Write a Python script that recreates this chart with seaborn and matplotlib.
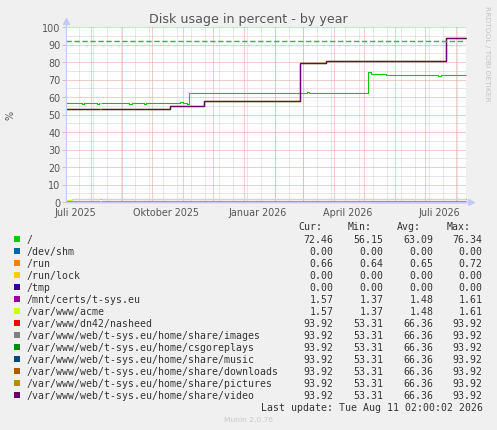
import numpy as np
import pandas as pd
import matplotlib
matplotlib.use('Agg')
import matplotlib.pyplot as plt
from matplotlib.patches import Rectangle
import seaborn as sns

W, H = 497, 431
start = pd.Timestamp('2025-07-07')   # left edge of the 400 day window

# line data, as (day offset from start, percent) breakpoints
root_days = [0, 16, 18, 31, 33, 63, 66, 78, 80, 100, 103, 114, 117, 121, 123,
             173, 175, 186, 188, 241, 243, 296, 302, 305, 308, 320, 345, 372, 375, 400]
root_vals = [56.3, 56.0, 56.3, 56.1, 56.3, 56.0, 56.3, 56.1, 56.3, 56.8, 56.4, 56.9, 56.4, 56.2, 62.1,
             62.5, 62.1, 62.5, 62.1, 62.6, 62.1, 62.4, 74.2, 73.3, 73.0, 72.7, 72.8, 72.2, 72.6, 72.46]
share_days = [0, 104, 138, 234, 260, 380, 400]
share_vals = [53.31, 54.7, 57.5, 79.6, 80.4, 93.92, 93.92]
certs_days = [0, 6, 150, 300, 370, 400]
certs_vals = [1.37, 1.45, 1.48, 1.52, 1.57, 1.57]
run_days = [0, 200, 400]
run_vals = [0.64, 0.65, 0.66]
zero_days = [0, 400]
zero_vals = [0.0, 0.0]
tmp_days = [304, 400]
tmp_vals = [0.0, 0.0]
gap = (34, 35)          # missing data
warn_level = 92

labels = ['/', '/dev/shm', '/run', '/run/lock', '/tmp', '/mnt/certs/t-sys.eu', '/var/www/acme',
          '/var/www/dn42/nasheed', '/var/www/web/t-sys.eu/home/share/images',
          '/var/www/web/t-sys.eu/home/csgoreplays', '/var/www/web/t-sys.eu/home/share/music',
          '/var/www/web/t-sys.eu/home/share/downloads', '/var/www/web/t-sys.eu/home/share/pictures',
          '/var/www/web/t-sys.eu/home/share/video']
colors = ['#00CC00', '#0066B3', '#FF8000', '#FFCC00', '#330099', '#990099', '#CCFF00',
          '#FF0000', '#808080', '#008F00', '#00487D', '#B35A00', '#B38F00', '#6B006B']
cur = [72.46, 0.00, 0.66, 0.00, 0.00, 1.57, 1.57] + [93.92] * 7
mins = [56.15, 0.00, 0.64, 0.00, 0.00, 1.37, 1.37] + [53.31] * 7
avgs = [63.09, 0.00, 0.65, 0.00, 0.00, 1.48, 1.48] + [66.36] * 7
maxs = [76.34, 0.00, 0.72, 0.00, 0.00, 1.61, 1.61] + [93.92] * 7
series = [(root_days, root_vals), (zero_days, zero_vals), (run_days, run_vals),
          (zero_days, zero_vals), (tmp_days, tmp_vals), (certs_days, certs_vals),
          (certs_days, certs_vals)] + [(share_days, share_vals)] * 7

tick_labels = ['Juli 2025', 'Oktober 2025', 'Januar 2026', 'April 2026', 'Juli 2026']
tick_days = [9, 100, 192, 282, 373]


def segments(days, vals):
    # split a series around the data gap
    days = np.asarray(days, float)
    vals = np.asarray(vals, float)
    pre = days < gap[0]
    if not pre.any():
        return [pd.DataFrame({'day': days, 'value': vals})]
    v0 = vals[days <= gap[1]][-1]
    post = days > gap[1]
    return [pd.DataFrame({'day': np.append(days[pre], gap[0]),
                          'value': np.append(vals[pre], vals[pre][-1])}),
            pd.DataFrame({'day': np.append(gap[1], days[post]),
                          'value': np.append(v0, vals[post])})]


def fx(x):
    return x / W


def fy(y):
    return 1 - y / H


plt.rcParams['font.family'] = ['DejaVu Sans']
fig = plt.figure(figsize=(W / 100, H / 100), dpi=100, facecolor='#F0F0F0')
ax = fig.add_axes([fx(66), fy(203), 400 / W, 175 / H])
ax.set_facecolor('white')

# grid
month_days = [(d - start).days for d in pd.date_range('2025-08-01', '2026-08-01', freq='MS')]
minor_days = np.arange(13, 400, 14)
dot = (0, (1, 1))
ax.vlines(minor_days, 0, 100, colors='#D0D0D0', lw=0.72, linestyles=dot, zorder=0.5)
ax.hlines(np.arange(5, 100, 10), 0, 400, colors='#D0D0D0', lw=0.72, linestyles=dot, zorder=0.5)
ax.vlines(month_days, 0, 100, colors='#E49C9C', lw=0.72, linestyles=dot, zorder=0.6)
ax.hlines(np.arange(10, 101, 10), 0, 400, colors='#E49C9C', lw=0.72, linestyles=dot, zorder=0.6)

for (d, v), c in zip(series, colors):
    for df in segments(d, v):
        sns.lineplot(data=df, x='day', y='value', drawstyle='steps-post', estimator=None,
                     color=c, lw=0.8, solid_capstyle='butt', ax=ax, legend=False, clip_on=False)

ax.axhline(warn_level, color='#00CC00', lw=1.0, dashes=(3.8, 1.95))

ax.set_xlim(0, 400)
ax.set_ylim(0, 100)
ax.set_xlabel('')
ax.set_ylabel('')
for s in ax.spines.values():
    s.set_visible(False)
axis_c = '#C4CAF2'
ax.plot([0, 0], [0, 1.035], transform=ax.transAxes, color=axis_c, lw=0.8, clip_on=False, zorder=3)
ax.plot([0, 1.012], [0, 0], transform=ax.transAxes, color=axis_c, lw=0.8, clip_on=False, zorder=3)
ax.plot([0], [1.035], transform=ax.transAxes, marker='^', ms=4, color=axis_c, clip_on=False, zorder=3)
ax.plot([1.012], [0], transform=ax.transAxes, marker='>', ms=4, color=axis_c, clip_on=False, zorder=3)

ax.set_yticks(range(0, 101, 10))
ax.tick_params(axis='y', length=3, width=0.7, color='#E0B8B8', labelsize=6.9, labelcolor='#555555', pad=1)
ax.set_xticks(tick_days, tick_labels)
ax.tick_params(axis='x', length=0, labelsize=6.9, labelcolor='#555555', pad=3.8)

fig.text(0.5, fy(19), 'Disk usage in percent - by year', ha='center', va='center',
         fontsize=9.1, color='#555555')
fig.text(fx(10), fy(115), '%', rotation=90, ha='center', va='center', fontsize=6.9, color='#555555')
fig.text(fx(487.5), fy(53.5), 'RRDTOOL / TOBI OETIKER', rotation=270, ha='center', va='center',
         fontsize=5.4, color='#C4C4C4')

# legend block
mono = 'DejaVu Sans Mono'
lc = '#333333'
for x, h in zip([298, 348, 397, 447], ['Cur:', 'Min:', 'Avg:', 'Max:']):
    fig.text(fx(x), fy(227.3), h, ha='left', va='center', fontsize=7.1, family=mono, color=lc)
for i, (lab, c) in enumerate(zip(labels, colors)):
    y = 240 + 12 * i
    fig.patches.append(Rectangle((fx(14), fy(y + 3)), 6 / W, 6 / H, transform=fig.transFigure,
                                 facecolor=c, edgecolor='none', figure=fig))
    fig.text(fx(26.5), fy(y), lab, ha='left', va='center', fontsize=7.1, family=mono, color=lc)
    for x, col in zip([333.3, 383.3, 433.3, 482.7], [cur, mins, avgs, maxs]):
        fig.text(fx(x), fy(y), f'{col[i]:.2f}', ha='right', va='center', fontsize=7.1,
                 family=mono, color=lc)
fig.text(fx(482.7), fy(407.7), 'Last update: Tue Aug 11 02:00:02 2026', ha='right', va='center',
         fontsize=7.1, family=mono, color=lc)
fig.text(fx(248), fy(420), 'Munin 2.0.76', ha='center', va='center', fontsize=5.4, color='#C8C8C8')

fig.savefig('out.png', dpi=100, facecolor=fig.get_facecolor())
